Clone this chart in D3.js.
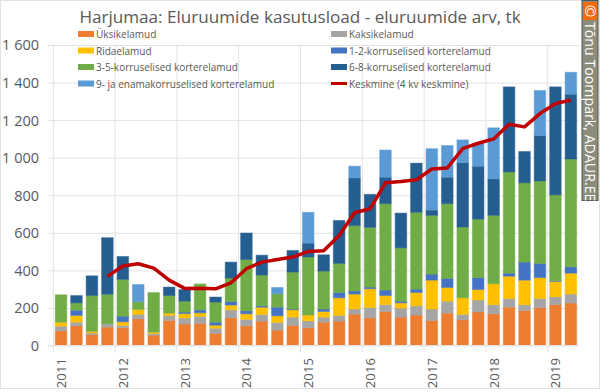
<!DOCTYPE html>
<html>
<head>
<meta charset="utf-8">
<script src="https://cdn.jsdelivr.net/npm/d3@7"></script>
<style>
  html, body { margin: 0; padding: 0; background: #fff; }
  svg { display: block; font-family: "Open Sans", sans-serif; }
</style>
</head>
<body>
<svg id="chart" width="600" height="392"></svg>
<script>
const title = "Harjumaa: Eluruumide kasutusload - eluruumide arv, tk"
const quarters = d3.range(2011, 2020).flatMap(y => [1, 2, 3, 4].map(q => y + "Q" + q)).slice(0, 34)
const yearLabels = ["2011", "2012", "2013", "2014", "2015", "2016", "2017", "2018", "2019"]
const yTicks = [0, 200, 400, 600, 800, 1000, 1200, 1400, 1600]

const yksik = [78,105,57,98,94,142,55,133,114,117,64,147,105,130,82,107,94,124,130,167,147,181,151,162,133,172,137,179,169,204,186,201,218,226]
const kaksik = [25,19,10,17,13,23,9,27,32,38,28,43,34,35,41,44,37,27,30,27,55,36,48,49,61,64,28,63,48,46,31,49,41,48]
const rida = [21,36,8,0,19,27,7,12,24,19,16,25,30,39,35,39,31,30,94,80,100,49,28,71,154,73,89,56,112,119,131,111,82,111]
const k12 = [0,28,0,0,30,0,0,0,8,16,16,19,16,7,46,4,0,13,28,16,9,29,9,18,32,48,0,63,0,16,96,76,4,34]
const k35 = [146,39,191,158,196,41,211,94,58,138,107,125,273,164,71,197,309,202,155,348,318,460,284,409,313,398,377,312,364,539,422,439,457,574]
const k68 = [0,39,105,301,122,0,0,45,62,0,27,85,141,106,0,115,74,87,229,254,176,141,185,262,28,141,343,281,194,453,167,242,575,345]
const k9 = [0,0,0,0,0,92,0,0,0,0,0,0,0,0,34,0,164,0,0,63,0,145,0,0,327,169,121,122,272,0,0,240,0,117]
const keskmine = [null,null,null,368,423,435,412,348,304,305,302,334,409,444,458,471,501,504,586,707,728,866,873,882,940,945,1048,1077,1100,1178,1164,1235,1288,1307]

const seriesNames = ["Üksikelamud", "Kaksikelamud", "Ridaelamud", "1-2-korruselised korterelamud", "3-5-korruselised korterelamud", "6-8-korruselised korterelamud", "9- ja enamakorruselised korterelamud"]
const seriesValues = [yksik, kaksik, rida, k12, k35, k68, k9]
const seriesColors = ["#ed7d31", "#a5a5a5", "#ffc000", "#4472c4", "#70ad47", "#255e91", "#5b9bd5"]
const lineName = "Keskmine (4 kv keskmine)"

const textColor = "#595959", gridColor = "#e3e3e3"

const svg = d3.select("#chart")
const plot = { left: 53.3, right: 578.6, top: 45, bottom: 345.5 }

const x = d3.scaleBand().domain(quarters).range([plot.left, plot.right]).paddingInner(0.25).paddingOuter(0.125)
const y = d3.scaleLinear().domain([0, 1600]).range([plot.bottom, plot.top])

// chart frame
svg.append("rect").attr("x", 0.5).attr("y", 0.5).attr("width", 599).attr("height", 388)
    .attr("fill", "#fff").attr("stroke", "#e2e2e2")

// horizontal grid + y labels
const yAxis = d3.axisLeft(y).tickValues(yTicks)
    .tickSize(plot.right - 48)
    .tickFormat(d => d3.format(",")(d).replace(",", " "))
const gy = svg.append("g").attr("transform", "translate(" + plot.right + ",0)").call(yAxis)
gy.select(".domain").remove()
gy.selectAll("line").attr("stroke", gridColor)
gy.selectAll("text").attr("x", 39 - plot.right).attr("dy", "0.34em").attr("fill", textColor)
    .attr("text-anchor", "end").attr("font-size", 14.5).attr("font-family", "Open Sans")

// vertical grid, one line at the first quarter of every year
yearLabels.forEach(year => {
    const xPos = x(year + "Q1") - x.step() * x.paddingOuter()
    svg.append("line").attr("x1", xPos).attr("x2", xPos).attr("y1", plot.top).attr("y2", 352)
        .attr("stroke", gridColor)
    svg.append("text")
        .attr("transform", "translate(" + (x(year + "Q1") + x.bandwidth() / 2 + 5) + ",358) rotate(-90)")
        .attr("text-anchor", "end").attr("font-size", 13.2).attr("fill", textColor)
        .text(year)
})

// stacked bars
const table = quarters.map((q, i) => {
    const row = { quarter: q }
    seriesNames.forEach((name, s) => { row[name] = seriesValues[s][i] })
    return row
})
const stacked = d3.stack().keys(seriesNames)(table)

svg.append("g").selectAll("g").data(stacked).join("g")
    .attr("fill", (d, i) => seriesColors[i])
    .attr("stroke", (d, i) => seriesColors[i])
    .attr("stroke-opacity", 0.45)
    .selectAll("rect").data(d => d.filter(v => v[1] > v[0])).join("rect")
    .attr("x", d => x(d.data.quarter))
    .attr("width", x.bandwidth())
    .attr("y", d => y(d[1]))
    .attr("height", d => y(d[0]) - y(d[1]))

// moving average
const line = d3.line()
    .defined(d => d != null)
    .x((d, i) => x(quarters[i]) + x.bandwidth() / 2)
    .y(d => y(d))
svg.append("path").datum(keskmine).attr("d", line)
    .attr("fill", "none").attr("stroke", "#c00000").attr("stroke-width", 3.5).attr("stroke-linejoin", "round")

// axis baseline
svg.append("line").attr("x1", 48).attr("x2", plot.right).attr("y1", plot.bottom).attr("y2", plot.bottom).attr("stroke", gridColor)

// title
svg.append("text").attr("x", 300).attr("y", 23).attr("text-anchor", "middle")
    .attr("font-size", 17.1).attr("fill", textColor).text(title)

// legend
const legendRows = [34, 50.5, 67, 83.5]
const legendItems = [
    { name: seriesNames[0], color: seriesColors[0], col: 78, row: 0 },
    { name: seriesNames[1], color: seriesColors[1], col: 331, row: 0 },
    { name: seriesNames[2], color: seriesColors[2], col: 78, row: 1 },
    { name: seriesNames[3], color: seriesColors[3], col: 331, row: 1 },
    { name: seriesNames[4], color: seriesColors[4], col: 78, row: 2 },
    { name: seriesNames[5], color: seriesColors[5], col: 331, row: 2 },
    { name: seriesNames[6], color: seriesColors[6], col: 78, row: 3 },
    { name: lineName, color: "#c00000", col: 331, row: 3, isLine: true }
]
legendItems.forEach(d => {
    const yPos = legendRows[d.row]
    if (d.isLine) {
        svg.append("line").attr("x1", d.col).attr("x2", d.col + 16).attr("y1", yPos).attr("y2", yPos)
            .attr("stroke", d.color).attr("stroke-width", 3)
    } else {
        svg.append("rect").attr("x", d.col).attr("y", yPos - 3).attr("width", 16).attr("height", 6).attr("fill", d.color)
    }
    svg.append("text").attr("x", d.col + 18).attr("y", yPos + 0.5).attr("dy", "0.35em")
        .attr("font-size", 10).attr("fill", textColor).text(d.name)
})

// watermark
svg.append("rect").attr("x", 582).attr("y", 0.5).attr("width", 16).attr("height", 200)
    .attr("fill", "#8b8c7a").attr("stroke", "#555")
svg.append("rect").attr("x", 583).attr("y", 2).attr("width", 14).attr("height", 18).attr("fill", "#f26c0d")
svg.append("text").attr("x", 590).attr("y", 11).attr("text-anchor", "middle").attr("dy", "0.35em")
    .attr("font-size", 15).attr("fill", "#fff")
    .attr("transform", "rotate(90,590,11)").text("©")
svg.append("text").attr("transform", "translate(585,22) rotate(90)")
    .attr("font-size", 14.2).attr("fill", "#fff").text("Tõnu Toompark, ADAUR.EE")
</script>
</body>
</html>
